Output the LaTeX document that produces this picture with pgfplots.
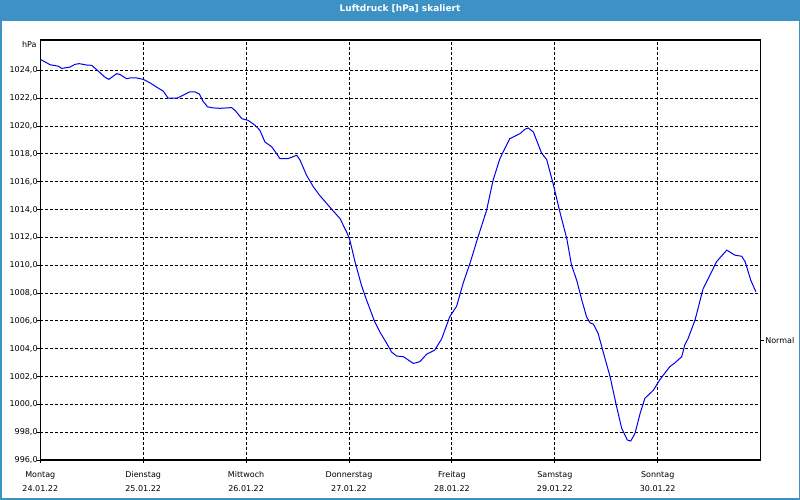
\documentclass[border=0pt]{standalone}
\usepackage{fontspec}
\setmainfont{DejaVu Sans}
\usepackage{pgfplots}
\pgfplotsset{compat=1.18}
\definecolor{barblau}{RGB}{60,146,197}
\definecolor{kurve}{RGB}{0,0,235}

\begin{document}
\begin{tikzpicture}
\path[use as bounding box] (0,0) rectangle (800pt,500pt);
\fill[white] (0,0) rectangle (800pt,500pt);
\fill[barblau] (0,479pt) rectangle (800pt,500pt);
\draw[barblau, line width=1.5pt] (0.75pt,0.75pt) rectangle (799.25pt,499.25pt);
\node[white, font=\fontsize{9}{11}\bfseries] at (400pt,491.3pt) {Luftdruck [hPa] skaliert};

\begin{axis}[
  at={(40.3pt,40pt)}, anchor=south west,
  scale only axis, width=720.3pt, height=420pt,
  xmin=0, xmax=168, ymin=996, ymax=1026.18,
  xtick={0,24,...,144},
  xticklabels={{Montag\\24.01.22},{Dienstag\\25.01.22},{Mittwoch\\26.01.22},{Donnerstag\\27.01.22},{Freitag\\28.01.22},{Samstag\\29.01.22},{Sonntag\\30.01.22}},
  ytick={996,998,...,1024},
  grid=major,
  major grid style={black, line width=0.9pt, dash pattern=on 3pt off 2pt},
  axis line style={black, line width=1.5pt},
  tick style={black, line width=0.9pt},
  tick align=outside, major tick length=3pt,
  xtick pos=bottom, ytick pos=left,
  xticklabel style={align=center, font=\fontsize{8}{14}\selectfont, inner sep=0pt, anchor=north, yshift=-8pt},
  yticklabel style={font=\fontsize{8}{10}\selectfont, inner sep=0pt, anchor=east, xshift=0.5pt},
  /pgf/number format/.cd, fixed, fixed zerofill, precision=1, use comma, 1000 sep={}, assume math mode=true,
  /pgfplots/.cd,
  extra y ticks={1004.57},
  extra y tick labels={Normal},
  extra y tick style={grid=none, ytick pos=right, yticklabel pos=right, major tick length=3pt,
    yticklabel style={anchor=west, inner sep=0pt, xshift=1pt}},
  clip=false,
]
\addplot[kurve, line width=1pt] table {
h p
0 1024.79
2.3 1024.4
4.2 1024.3
5.0 1024.14
6.9 1024.23
8.1 1024.43
9.1 1024.48
10.8 1024.38
12.0 1024.36
13.5 1023.95
15.1 1023.5
16.0 1023.35
17.8 1023.76
18.6 1023.7
20.1 1023.4
20.9 1023.45
22.5 1023.45
24.0 1023.35
25.6 1023.1
27.1 1022.8
28.7 1022.5
29.8 1022.0
31.9 1022.0
33.7 1022.27
34.9 1022.46
36.1 1022.45
37.1 1022.3
37.9 1021.8
39.0 1021.38
40.3 1021.3
41.9 1021.27
44.6 1021.32
45.4 1021.13
47.0 1020.53
48.5 1020.4
50.1 1020.05
51.2 1019.7
52.4 1018.85
54.0 1018.5
55.9 1017.66
57.8 1017.66
59.8 1017.9
60.6 1017.54
62.1 1016.46
63.7 1015.62
65.2 1015.0
66.8 1014.43
68.3 1013.9
69.9 1013.35
71.5 1012.35
72.2 1011.8
73.4 1010.24
74.9 1008.56
76.1 1007.49
78.0 1005.93
79.2 1005.2
80.8 1004.38
81.9 1003.77
83.1 1003.47
84.7 1003.42
87.0 1002.94
88.5 1003.06
90.1 1003.6
92.0 1003.9
93.6 1004.7
95.5 1006.3
97.1 1007.05
98.6 1008.68
100.2 1010.12
102.1 1012.03
104.1 1013.95
105.6 1016.1
107.2 1017.66
109.5 1019.09
111.9 1019.45
113.0 1019.76
113.8 1019.86
115.0 1019.57
116.9 1018.06
118.1 1017.59
119.6 1015.86
121.2 1013.8
122.8 1011.9
123.9 1010.0
125.1 1008.92
126.3 1007.49
127.4 1006.29
128.2 1005.86
129.0 1005.76
130.1 1005.1
131.7 1003.3
132.9 1001.98
134.4 999.85
135.6 998.28
136.9 997.44
137.7 997.36
138.7 997.91
139.9 999.35
141.0 1000.43
143.0 1001.02
144.5 1001.77
146.8 1002.7
148.0 1002.98
149.6 1003.42
150.3 1004.26
151.1 1004.74
152.7 1006.05
154.6 1008.32
155.8 1009.04
157.7 1010.24
160.1 1011.08
162.0 1010.72
163.6 1010.64
164.4 1010.24
165.7 1008.92
166.9 1008.08
};
\node[anchor=north east, inner sep=0pt, font=\fontsize{8}{10}\selectfont] at ([xshift=-3.5pt,yshift=-1.7pt]rel axis cs:0,1) {hPa};
\end{axis}
\end{tikzpicture}
\end{document}
